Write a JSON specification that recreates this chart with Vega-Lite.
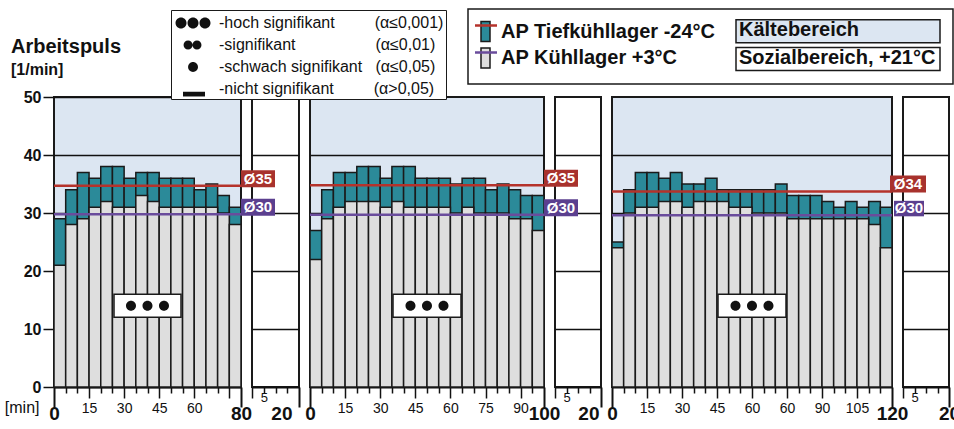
{
  "$schema": "https://vega.github.io/schema/vega-lite/v6.json",
  "background": "white",
  "padding": {"left": 3, "top": 8, "right": 0, "bottom": 0},
  "autosize": {"type": "pad"},
  "bounds": "flush",
  "spacing": 11,
  "config": {
    "font": "Liberation Sans",
    "view": {"stroke": "#1a1a1a", "strokeWidth": 2}
  },
  "datasets": {
    "balken": [
      {"p":1,"von":0,"bis":5,"tief":29,"kuehl":21},{"p":1,"von":5,"bis":10,"tief":34,"kuehl":28},{"p":1,"von":10,"bis":15,"tief":37,"kuehl":29},{"p":1,"von":15,"bis":20,"tief":36,"kuehl":31},
      {"p":1,"von":20,"bis":25,"tief":38,"kuehl":32},{"p":1,"von":25,"bis":30,"tief":38,"kuehl":31},{"p":1,"von":30,"bis":35,"tief":36,"kuehl":31},{"p":1,"von":35,"bis":40,"tief":37,"kuehl":33},
      {"p":1,"von":40,"bis":45,"tief":37,"kuehl":32},{"p":1,"von":45,"bis":50,"tief":36,"kuehl":31},{"p":1,"von":50,"bis":55,"tief":36,"kuehl":31},{"p":1,"von":55,"bis":60,"tief":36,"kuehl":31},
      {"p":1,"von":60,"bis":65,"tief":34,"kuehl":31},{"p":1,"von":65,"bis":70,"tief":35,"kuehl":31},{"p":1,"von":70,"bis":75,"tief":33,"kuehl":30},{"p":1,"von":75,"bis":80,"tief":31,"kuehl":28},
      {"p":2,"von":0,"bis":5,"tief":27,"kuehl":22},{"p":2,"von":5,"bis":10,"tief":34,"kuehl":29},{"p":2,"von":10,"bis":15,"tief":37,"kuehl":31},{"p":2,"von":15,"bis":20,"tief":37,"kuehl":32},
      {"p":2,"von":20,"bis":25,"tief":38,"kuehl":32},{"p":2,"von":25,"bis":30,"tief":38,"kuehl":32},{"p":2,"von":30,"bis":35,"tief":36,"kuehl":31},{"p":2,"von":35,"bis":40,"tief":38,"kuehl":32},
      {"p":2,"von":40,"bis":45,"tief":38,"kuehl":31},{"p":2,"von":45,"bis":50,"tief":36,"kuehl":31},{"p":2,"von":50,"bis":55,"tief":36,"kuehl":31},{"p":2,"von":55,"bis":60,"tief":36,"kuehl":31},
      {"p":2,"von":60,"bis":65,"tief":35,"kuehl":30},{"p":2,"von":65,"bis":70,"tief":36,"kuehl":31},{"p":2,"von":70,"bis":75,"tief":36,"kuehl":30},{"p":2,"von":75,"bis":80,"tief":34,"kuehl":30},
      {"p":2,"von":80,"bis":85,"tief":35,"kuehl":30},{"p":2,"von":85,"bis":90,"tief":34,"kuehl":29},{"p":2,"von":90,"bis":95,"tief":33,"kuehl":29},{"p":2,"von":95,"bis":100,"tief":33,"kuehl":27},
      {"p":3,"von":0,"bis":5,"tief":25,"kuehl":24},{"p":3,"von":5,"bis":10,"tief":34,"kuehl":30},{"p":3,"von":10,"bis":15,"tief":37,"kuehl":31},{"p":3,"von":15,"bis":20,"tief":37,"kuehl":31},
      {"p":3,"von":20,"bis":25,"tief":36,"kuehl":32},{"p":3,"von":25,"bis":30,"tief":37,"kuehl":32},{"p":3,"von":30,"bis":35,"tief":35,"kuehl":31},{"p":3,"von":35,"bis":40,"tief":35,"kuehl":32},
      {"p":3,"von":40,"bis":45,"tief":36,"kuehl":32},{"p":3,"von":45,"bis":50,"tief":34,"kuehl":32},{"p":3,"von":50,"bis":55,"tief":34,"kuehl":31},{"p":3,"von":55,"bis":60,"tief":34,"kuehl":31},
      {"p":3,"von":60,"bis":65,"tief":34,"kuehl":30},{"p":3,"von":65,"bis":70,"tief":34,"kuehl":30},{"p":3,"von":70,"bis":75,"tief":35,"kuehl":30},{"p":3,"von":75,"bis":80,"tief":33,"kuehl":29},
      {"p":3,"von":80,"bis":85,"tief":33,"kuehl":29},{"p":3,"von":85,"bis":90,"tief":33,"kuehl":29},{"p":3,"von":90,"bis":95,"tief":32,"kuehl":29},{"p":3,"von":95,"bis":100,"tief":31,"kuehl":29},
      {"p":3,"von":100,"bis":105,"tief":32,"kuehl":29},{"p":3,"von":105,"bis":110,"tief":31,"kuehl":29},{"p":3,"von":110,"bis":115,"tief":32,"kuehl":28},{"p":3,"von":115,"bis":120,"tief":31,"kuehl":24}
    ],
    "gruppen": [
      {"p":1,"tief_mittel":34.7,"kuehl_mittel":29.8,"sig":"-hoch signifikant"},
      {"p":2,"tief_mittel":34.8,"kuehl_mittel":29.7,"sig":"-hoch signifikant"},
      {"p":3,"tief_mittel":33.7,"kuehl_mittel":29.6,"sig":"-hoch signifikant"}
    ]
  },
  "hconcat": [
    {
      "width": 187, "height": 290,
      "view": {"fill": "#dce6f2"},
      "title": {"text": "Arbeitspuls", "subtitle": "[1/min]", "anchor": "start", "frame": "group", "orient": "top", "dx": -43, "fontSize": 20, "fontWeight": "bold", "color": "#111", "subtitleFontSize": 16, "subtitleFontWeight": "bold", "subtitleColor": "#111", "subtitlePadding": 5, "offset": 11},
      "layer": [
        {
          "data": {"name": "balken"},
          "transform": [{"filter": "datum.p === 1"}],
          "mark": {"type": "rect", "stroke": "#1a1a1a", "strokeWidth": 1.5},
          "encoding": {
            "x": {"field": "von", "type": "quantitative", "scale": {"domain": [0, 80], "nice": false, "zero": false},
              "axis": {"title": "[min]", "titleX": -15, "titleY": 25, "titleAlign": "right", "titleBaseline": "alphabetic", "titleFontSize": 16, "titleFontWeight": "normal", "titleColor": "#111",
                "values": [0,5,10,15,20,25,30,35,40,45,50,55,60,65,70,75,80], "tickCount": 17,
                "labelExpr": "indexof([0,15,30,45,60,80], datum.value) >= 0 ? datum.label : ''",
                "labelFlush": false, "labelOverlap": false, "labelColor": "#111", "grid": false,
                "domainColor": "#111", "domainWidth": 2, "tickColor": "#111",
                "tickSize": {"condition": [{"test": "datum.value === 0 || datum.value === 80", "value": 20}, {"test": "datum.value % 15 === 0", "value": 11}], "value": 6},
                "tickWidth": {"condition": {"test": "datum.value === 0 || datum.value === 80", "value": 2}, "value": 1.5},
                "labelFontSize": {"condition": {"test": "datum.value === 0 || datum.value === 80", "value": 19}, "value": 14},
                "labelFontWeight": {"condition": {"test": "datum.value === 0 || datum.value === 80", "value": "bold"}, "value": "normal"},
                "labelPadding": {"condition": {"test": "datum.value === 0 || datum.value === 80", "value": -3}, "value": 3}}},
            "x2": {"field": "bis"},
            "y": {"field": "tief", "type": "quantitative", "scale": {"domain": [0, 50], "nice": false},
              "axis": {"title": null, "values": [0,10,20,30,40,50], "grid": true, "gridColor": "#111", "gridWidth": 1.5, "tickSize": 11, "tickWidth": 1.5, "tickColor": "#111", "domain": false, "labelFontSize": 16, "labelFontWeight": "bold", "labelColor": "#111", "labelPadding": 2, "labelFlush": false}},
            "y2": {"datum": 0},
            "fill": {"datum": "AP Tiefkühllager -24°C", "type": "nominal",
              "scale": {"domain": ["AP Tiefkühllager -24°C", "AP Kühllager +3°C", "Kältebereich", "Sozialbereich, +21°C"], "range": ["#2b8a99", "#dedede", "#dce6f2", "#ffffff"]},
              "legend": {"orient": "none", "legendX": 414, "legendY": -88, "title": null, "columns": 2, "columnPadding": 0, "rowPadding": -2, "padding": 10,
                "strokeColor": "#1a1a1a", "symbolSize": 400, "symbolStrokeColor": "#1a1a1a", "symbolStrokeWidth": 1.5, "symbolOpacity": 1,
                "labelFontSize": 20, "labelFontWeight": "bold", "labelColor": "#111", "labelOffset": 1, "labelLimit": 400, "zindex": 1,
                "encode": {"legend": {"update": {"strokeWidth": {"value": 1.5}}},
                  "symbols": {"update": {"shape": {"signal": "datum.value === 'Kältebereich' || datum.value === 'Sozialbereich, +21°C' ? 'M0.9,-1.05H21.3V1.25H0.9Z' : 'M-0.8,-1H0.1V1H-0.8Z'"}}}}}}
          }
        },
        {
          "data": {"name": "balken"},
          "transform": [{"filter": "datum.p === 1"}],
          "mark": {"type": "rect", "stroke": "#1a1a1a", "strokeWidth": 1.5},
          "encoding": {
            "x": {"field": "von", "type": "quantitative"},
            "x2": {"field": "bis"},
            "y": {"field": "kuehl", "type": "quantitative"},
            "y2": {"datum": 0},
            "fill": {"datum": "AP Kühllager +3°C", "type": "nominal"}
          }
        },
        {
          "data": {"name": "gruppen"},
          "transform": [{"filter": "datum.p === 1"}],
          "mark": {"type": "rule", "strokeWidth": 2.5},
          "encoding": {
            "y": {"field": "tief_mittel", "type": "quantitative"},
            "stroke": {"datum": "Ø Tiefkühllager", "type": "nominal",
              "scale": {"domain": ["Ø Tiefkühllager", "Ø Kühllager"], "range": ["#b5322b", "#6a4c9c"]},
              "legend": {"orient": "none", "legendX": 414, "legendY": -88, "title": null, "columns": 1, "rowPadding": 5, "padding": 10,
                "symbolType": "M-1.45,-0.5H0.75", "symbolSize": 400, "symbolStrokeWidth": 2.5,
                "labelFontSize": 20, "labelFontWeight": "bold", "labelOpacity": 0, "labelOffset": 1, "labelExpr": "''", "zindex": 2}}
          }
        },
        {
          "data": {"name": "gruppen"},
          "transform": [{"filter": "datum.p === 1"}],
          "mark": {"type": "rule", "strokeWidth": 2.5},
          "encoding": {
            "y": {"field": "kuehl_mittel", "type": "quantitative"},
            "stroke": {"datum": "Ø Kühllager", "type": "nominal"}
          }
        },
        {
          "data": {"name": "gruppen"},
          "transform": [{"filter": "datum.p === 1"}],
          "mark": {"type": "point", "shape": "M-3.35,-1.15H3.35V1.15H-3.35Z", "size": 400, "filled": true, "fill": "white", "stroke": "#1a1a1a", "strokeWidth": 1.5, "opacity": 1},
          "encoding": {"x": {"datum": 40, "type": "quantitative"}, "y": {"datum": 14, "type": "quantitative"}}
        },
        {
          "data": {"name": "gruppen"},
          "transform": [{"filter": "datum.p === 1"}],
          "mark": {"type": "point", "shape": "M-2.15,0a0.5,0.5 0 1,0 1,0a0.5,0.5 0 1,0 -1,0ZM-0.5,0a0.5,0.5 0 1,0 1,0a0.5,0.5 0 1,0 -1,0ZM1.15,0a0.5,0.5 0 1,0 1,0a0.5,0.5 0 1,0 -1,0Z", "size": 400, "filled": true, "fill": "#111", "strokeWidth": 0, "opacity": 1},
          "encoding": {"x": {"datum": 40, "type": "quantitative"}, "y": {"datum": 14, "type": "quantitative"}}
        },
        {
          "data": {"name": "gruppen"},
          "transform": [{"filter": "datum.p === 0"}],
          "mark": {"type": "point", "size": 484, "filled": true, "fill": "#111", "strokeWidth": 0, "opacity": 1},
          "encoding": {
            "x": {"datum": 40, "type": "quantitative"}, "y": {"datum": 14, "type": "quantitative"},
            "shape": {"field": "sig", "type": "nominal",
              "scale": {"domain": ["-hoch signifikant", "-signifikant", "-schwach signifikant", "-nicht signifikant"],
                "range": ["M-0.77,0a0.5,0.5 0 1,0 1,0a0.5,0.5 0 1,0 -1,0ZM0.32,0a0.5,0.5 0 1,0 1,0a0.5,0.5 0 1,0 -1,0ZM1.41,0a0.5,0.5 0 1,0 1,0a0.5,0.5 0 1,0 -1,0Z",
                  "M-0.04,0a0.41,0.41 0 1,0 0.82,0a0.41,0.41 0 1,0 -0.82,0ZM0.77,0a0.41,0.41 0 1,0 0.82,0a0.41,0.41 0 1,0 -0.82,0Z",
                  "M0.37,0a0.45,0.45 0 1,0 0.9,0a0.45,0.45 0 1,0 -0.9,0Z",
                  "M-0.09,0.25H1.91V0.68H-0.09Z"]},
              "legend": {"orient": "none", "legendX": 117, "legendY": -87, "title": null, "rowPadding": 3, "padding": 2,
                "strokeColor": "#1a1a1a", "fillColor": "white", "symbolSize": 484, "symbolFillColor": "#111", "symbolStrokeWidth": 0, "symbolOpacity": 1,
                "labelFontSize": 16, "labelColor": "#111", "labelOffset": 24, "labelLimit": 400, "zindex": 3,
                "labelExpr": "datum.label === '-hoch signifikant' ? datum.label + '\u00a0\u00a0\u00a0\u00a0\u00a0\u00a0\u00a0\u00a0\u00a0(α≤0,001)' : datum.label === '-signifikant' ? datum.label + '\u00a0\u00a0\u00a0\u00a0\u00a0\u00a0\u00a0\u00a0\u00a0\u00a0\u00a0\u00a0\u00a0\u00a0\u00a0\u00a0\u00a0\u00a0(α≤0,01)' : datum.label === '-schwach signifikant' ? datum.label + '\u00a0\u00a0\u00a0(α≤0,05)' : datum.label + '\u00a0\u00a0\u00a0\u00a0\u00a0\u00a0\u00a0\u00a0\u00a0(α>0,05)'",
                "encode": {"legend": {"update": {"strokeWidth": {"value": 1.5}, "width": {"value": 285}}}}}}
          }
        }
      ]
    },
    {
      "width": 47, "height": 290,
      "data": {"name": "gruppen"},
      "transform": [{"filter": "datum.p === 1"}, {"calculate": "'Ø' + format(datum.tief_mittel, '.0f')", "as": "tl"}, {"calculate": "'Ø' + format(datum.kuehl_mittel, '.0f')", "as": "kl"}],
      "layer": [
        {
          "mark": {"type": "point", "shape": "M-1.1,-1.55H2.3V0.15H-1.1Z", "size": 400, "filled": true, "fill": "#a8322d", "strokeWidth": 0, "opacity": 1},
          "encoding": {
            "x": {"datum": 0, "type": "quantitative", "scale": {"domain": [0, 20], "nice": false, "zero": false},
              "axis": {"title": null, "values": [0,5,10,15,20], "tickCount": 5, "labelExpr": "datum.value === 5 || datum.value === 20 ? datum.label : ''",
                "labelFlush": false, "labelOverlap": false, "labelColor": "#111", "domainColor": "#111", "domainWidth": 2, "tickColor": "#111",
                "tickSize": {"condition": [{"test": "datum.value === 20", "value": 20}, {"test": "datum.value === 0", "value": 11}], "value": 6},
                "tickWidth": {"condition": {"test": "datum.value === 20", "value": 2}, "value": 1.5},
                "labelFontSize": {"condition": {"test": "datum.value === 20", "value": 19}, "value": 13},
                "labelFontWeight": {"condition": {"test": "datum.value === 20", "value": "bold"}, "value": "normal"},
                "labelPadding": {"condition": {"test": "datum.value === 20", "value": -3}, "value": -2},
                "labelAlign": {"condition": {"test": "datum.value === 20", "value": "right"}, "value": "center"},
                "labelOffset": {"condition": {"test": "datum.value === 20", "value": -7}, "value": 0}}},
            "y": {"field": "tief_mittel", "type": "quantitative", "scale": {"domain": [0, 50], "nice": false},
              "axis": {"title": null, "values": [10,20,30,40], "grid": true, "gridColor": "#111", "gridWidth": 1.5, "ticks": false, "labels": false, "domain": false}}
          }
        },
        {
          "mark": {"type": "text", "fill": "white", "fontWeight": "bold", "fontSize": 15, "dx": 6, "dy": -7, "baseline": "middle", "align": "center"},
          "encoding": {"x": {"datum": 0, "type": "quantitative"}, "y": {"field": "tief_mittel", "type": "quantitative"}, "text": {"field": "tl"}}
        },
        {
          "mark": {"type": "point", "shape": "M-1.1,-1.55H2.3V0.15H-1.1Z", "size": 400, "filled": true, "fill": "#5b3f8f", "strokeWidth": 0, "opacity": 1},
          "encoding": {"x": {"datum": 0, "type": "quantitative"}, "y": {"field": "kuehl_mittel", "type": "quantitative"}}
        },
        {
          "mark": {"type": "text", "fill": "white", "fontWeight": "bold", "fontSize": 15, "dx": 6, "dy": -7, "baseline": "middle", "align": "center"},
          "encoding": {"x": {"datum": 0, "type": "quantitative"}, "y": {"field": "kuehl_mittel", "type": "quantitative"}, "text": {"field": "kl"}}
        }
      ]
    },
    {
      "width": 234, "height": 290,
      "view": {"fill": "#dce6f2"},
      "layer": [
        {
          "data": {"name": "balken"},
          "transform": [{"filter": "datum.p === 2"}],
          "mark": {"type": "rect", "stroke": "#1a1a1a", "strokeWidth": 1.5},
          "encoding": {
            "x": {"field": "von", "type": "quantitative", "scale": {"domain": [0, 100], "nice": false, "zero": false},
              "axis": {"title": null,
                "values": [0,5,10,15,20,25,30,35,40,45,50,55,60,65,70,75,80,85,90,95,100], "tickCount": 21,
                "labelExpr": "indexof([0,15,30,45,60,75,90,100], datum.value) >= 0 ? datum.label : ''",
                "labelFlush": false, "labelOverlap": false, "labelColor": "#111", "grid": false,
                "domainColor": "#111", "domainWidth": 2, "tickColor": "#111",
                "tickSize": {"condition": [{"test": "datum.value === 0 || datum.value === 100", "value": 20}, {"test": "datum.value % 15 === 0", "value": 11}], "value": 6},
                "tickWidth": {"condition": {"test": "datum.value === 0 || datum.value === 100", "value": 2}, "value": 1.5},
                "labelFontSize": {"condition": {"test": "datum.value === 0 || datum.value === 100", "value": 19}, "value": 14},
                "labelFontWeight": {"condition": {"test": "datum.value === 0 || datum.value === 100", "value": "bold"}, "value": "normal"},
                "labelPadding": {"condition": {"test": "datum.value === 0 || datum.value === 100", "value": -3}, "value": 3}}},
            "x2": {"field": "bis"},
            "y": {"field": "tief", "type": "quantitative", "scale": {"domain": [0, 50], "nice": false},
              "axis": {"title": null, "values": [10,20,30,40], "grid": true, "gridColor": "#111", "gridWidth": 1.5, "ticks": false, "labels": false, "domain": false}},
            "y2": {"datum": 0},
            "fill": {"datum": "AP Tiefkühllager -24°C", "type": "nominal"}
          }
        },
        {
          "data": {"name": "balken"},
          "transform": [{"filter": "datum.p === 2"}],
          "mark": {"type": "rect", "stroke": "#1a1a1a", "strokeWidth": 1.5},
          "encoding": {
            "x": {"field": "von", "type": "quantitative"},
            "x2": {"field": "bis"},
            "y": {"field": "kuehl", "type": "quantitative"},
            "y2": {"datum": 0},
            "fill": {"datum": "AP Kühllager +3°C", "type": "nominal"}
          }
        },
        {
          "data": {"name": "gruppen"},
          "transform": [{"filter": "datum.p === 2"}],
          "mark": {"type": "rule", "strokeWidth": 2.5},
          "encoding": {"y": {"field": "tief_mittel", "type": "quantitative"}, "stroke": {"datum": "Ø Tiefkühllager", "type": "nominal"}}
        },
        {
          "data": {"name": "gruppen"},
          "transform": [{"filter": "datum.p === 2"}],
          "mark": {"type": "rule", "strokeWidth": 2.5},
          "encoding": {"y": {"field": "kuehl_mittel", "type": "quantitative"}, "stroke": {"datum": "Ø Kühllager", "type": "nominal"}}
        },
        {
          "data": {"name": "gruppen"},
          "transform": [{"filter": "datum.p === 2"}],
          "mark": {"type": "point", "shape": "M-3.4,-1.15H3.4V1.15H-3.4Z", "size": 400, "filled": true, "fill": "white", "stroke": "#1a1a1a", "strokeWidth": 1.5, "opacity": 1},
          "encoding": {"x": {"datum": 50, "type": "quantitative"}, "y": {"datum": 14, "type": "quantitative"}}
        },
        {
          "data": {"name": "gruppen"},
          "transform": [{"filter": "datum.p === 2"}],
          "mark": {"type": "point", "shape": "M-2.15,0a0.5,0.5 0 1,0 1,0a0.5,0.5 0 1,0 -1,0ZM-0.5,0a0.5,0.5 0 1,0 1,0a0.5,0.5 0 1,0 -1,0ZM1.15,0a0.5,0.5 0 1,0 1,0a0.5,0.5 0 1,0 -1,0Z", "size": 400, "filled": true, "fill": "#111", "strokeWidth": 0, "opacity": 1},
          "encoding": {"x": {"datum": 50, "type": "quantitative"}, "y": {"datum": 14, "type": "quantitative"}}
        }
      ]
    },
    {
      "width": 46, "height": 290,
      "data": {"name": "gruppen"},
      "transform": [{"filter": "datum.p === 2"}, {"calculate": "'Ø' + format(datum.tief_mittel, '.0f')", "as": "tl"}, {"calculate": "'Ø' + format(datum.kuehl_mittel, '.0f')", "as": "kl"}],
      "layer": [
        {
          "mark": {"type": "point", "shape": "M-1.1,-1.55H2.3V0.15H-1.1Z", "size": 400, "filled": true, "fill": "#a8322d", "strokeWidth": 0, "opacity": 1},
          "encoding": {
            "x": {"datum": 0, "type": "quantitative", "scale": {"domain": [0, 20], "nice": false, "zero": false},
              "axis": {"title": null, "values": [0,5,10,15,20], "tickCount": 5, "labelExpr": "datum.value === 5 || datum.value === 20 ? datum.label : ''",
                "labelFlush": false, "labelOverlap": false, "labelColor": "#111", "domainColor": "#111", "domainWidth": 2, "tickColor": "#111",
                "tickSize": {"condition": [{"test": "datum.value === 20", "value": 20}, {"test": "datum.value === 0", "value": 11}], "value": 6},
                "tickWidth": {"condition": {"test": "datum.value === 20", "value": 2}, "value": 1.5},
                "labelFontSize": {"condition": {"test": "datum.value === 20", "value": 19}, "value": 13},
                "labelFontWeight": {"condition": {"test": "datum.value === 20", "value": "bold"}, "value": "normal"},
                "labelPadding": {"condition": {"test": "datum.value === 20", "value": -3}, "value": -2},
                "labelAlign": {"condition": {"test": "datum.value === 20", "value": "right"}, "value": "center"},
                "labelOffset": {"condition": {"test": "datum.value === 20", "value": -2}, "value": 0}}},
            "y": {"field": "tief_mittel", "type": "quantitative", "scale": {"domain": [0, 50], "nice": false},
              "axis": {"title": null, "values": [10,20,30,40], "grid": true, "gridColor": "#111", "gridWidth": 1.5, "ticks": false, "labels": false, "domain": false}}
          }
        },
        {
          "mark": {"type": "text", "fill": "white", "fontWeight": "bold", "fontSize": 15, "dx": 6, "dy": -7, "baseline": "middle", "align": "center"},
          "encoding": {"x": {"datum": 0, "type": "quantitative"}, "y": {"field": "tief_mittel", "type": "quantitative"}, "text": {"field": "tl"}}
        },
        {
          "mark": {"type": "point", "shape": "M-1.1,-1.55H2.3V0.15H-1.1Z", "size": 400, "filled": true, "fill": "#5b3f8f", "strokeWidth": 0, "opacity": 1},
          "encoding": {"x": {"datum": 0, "type": "quantitative"}, "y": {"field": "kuehl_mittel", "type": "quantitative"}}
        },
        {
          "mark": {"type": "text", "fill": "white", "fontWeight": "bold", "fontSize": 15, "dx": 6, "dy": -7, "baseline": "middle", "align": "center"},
          "encoding": {"x": {"datum": 0, "type": "quantitative"}, "y": {"field": "kuehl_mittel", "type": "quantitative"}, "text": {"field": "kl"}}
        }
      ]
    },
    {
      "width": 280, "height": 290,
      "view": {"fill": "#dce6f2"},
      "layer": [
        {
          "data": {"name": "balken"},
          "transform": [{"filter": "datum.p === 3"}],
          "mark": {"type": "rect", "stroke": "#1a1a1a", "strokeWidth": 1.5},
          "encoding": {
            "x": {"field": "von", "type": "quantitative", "scale": {"domain": [0, 120], "nice": false, "zero": false},
              "axis": {"title": null,
                "values": [0,5,10,15,20,25,30,35,40,45,50,55,60,65,70,75,80,85,90,95,100,105,110,115,120], "tickCount": 25,
                "labelExpr": "datum.value == 75 ? '60' : (indexof([0,15,30,45,60,90,105,120], datum.value) >= 0 ? datum.label : '')",
                "labelFlush": false, "labelOverlap": false, "labelColor": "#111", "grid": false,
                "domainColor": "#111", "domainWidth": 2, "tickColor": "#111",
                "tickSize": {"condition": [{"test": "datum.value === 0 || datum.value === 120", "value": 20}, {"test": "datum.value % 15 === 0", "value": 11}], "value": 6},
                "tickWidth": {"condition": {"test": "datum.value === 0 || datum.value === 120", "value": 2}, "value": 1.5},
                "labelFontSize": {"condition": {"test": "datum.value === 0 || datum.value === 120", "value": 19}, "value": 14},
                "labelFontWeight": {"condition": {"test": "datum.value === 0 || datum.value === 120", "value": "bold"}, "value": "normal"},
                "labelPadding": {"condition": {"test": "datum.value === 0 || datum.value === 120", "value": -3}, "value": 3}}},
            "x2": {"field": "bis"},
            "y": {"field": "tief", "type": "quantitative", "scale": {"domain": [0, 50], "nice": false},
              "axis": {"title": null, "values": [10,20,30,40], "grid": true, "gridColor": "#111", "gridWidth": 1.5, "ticks": false, "labels": false, "domain": false}},
            "y2": {"datum": 0},
            "fill": {"datum": "AP Tiefkühllager -24°C", "type": "nominal"}
          }
        },
        {
          "data": {"name": "balken"},
          "transform": [{"filter": "datum.p === 3"}],
          "mark": {"type": "rect", "stroke": "#1a1a1a", "strokeWidth": 1.5},
          "encoding": {
            "x": {"field": "von", "type": "quantitative"},
            "x2": {"field": "bis"},
            "y": {"field": "kuehl", "type": "quantitative"},
            "y2": {"datum": 0},
            "fill": {"datum": "AP Kühllager +3°C", "type": "nominal"}
          }
        },
        {
          "data": {"name": "gruppen"},
          "transform": [{"filter": "datum.p === 3"}],
          "mark": {"type": "rule", "strokeWidth": 2.5},
          "encoding": {"y": {"field": "tief_mittel", "type": "quantitative"}, "stroke": {"datum": "Ø Tiefkühllager", "type": "nominal"}}
        },
        {
          "data": {"name": "gruppen"},
          "transform": [{"filter": "datum.p === 3"}],
          "mark": {"type": "rule", "strokeWidth": 2.5},
          "encoding": {"y": {"field": "kuehl_mittel", "type": "quantitative"}, "stroke": {"datum": "Ø Kühllager", "type": "nominal"}}
        },
        {
          "data": {"name": "gruppen"},
          "transform": [{"filter": "datum.p === 3"}],
          "mark": {"type": "point", "shape": "M-3.4,-1.15H3.4V1.15H-3.4Z", "size": 400, "filled": true, "fill": "white", "stroke": "#1a1a1a", "strokeWidth": 1.5, "opacity": 1},
          "encoding": {"x": {"datum": 60, "type": "quantitative"}, "y": {"datum": 14, "type": "quantitative"}}
        },
        {
          "data": {"name": "gruppen"},
          "transform": [{"filter": "datum.p === 3"}],
          "mark": {"type": "point", "shape": "M-2.15,0a0.5,0.5 0 1,0 1,0a0.5,0.5 0 1,0 -1,0ZM-0.5,0a0.5,0.5 0 1,0 1,0a0.5,0.5 0 1,0 -1,0ZM1.15,0a0.5,0.5 0 1,0 1,0a0.5,0.5 0 1,0 -1,0Z", "size": 400, "filled": true, "fill": "#111", "strokeWidth": 0, "opacity": 1},
          "encoding": {"x": {"datum": 60, "type": "quantitative"}, "y": {"datum": 14, "type": "quantitative"}}
        }
      ]
    },
    {
      "width": 46, "height": 290,
      "data": {"name": "gruppen"},
      "transform": [{"filter": "datum.p === 3"}, {"calculate": "'Ø' + format(datum.tief_mittel, '.0f')", "as": "tl"}, {"calculate": "'Ø' + format(datum.kuehl_mittel, '.0f')", "as": "kl"}],
      "layer": [
        {
          "mark": {"type": "point", "shape": "M-1.3,-1.6H2.3V0.1H-1.3Z", "size": 400, "filled": true, "fill": "#a8322d", "strokeWidth": 0, "opacity": 1},
          "encoding": {
            "x": {"datum": 0, "type": "quantitative", "scale": {"domain": [0, 20], "nice": false, "zero": false},
              "axis": {"title": null, "values": [0,5,10,15,20], "tickCount": 5, "labelExpr": "datum.value === 5 || datum.value === 20 ? datum.label : ''",
                "labelFlush": false, "labelOverlap": false, "labelColor": "#111", "domainColor": "#111", "domainWidth": 2, "tickColor": "#111",
                "tickSize": {"condition": [{"test": "datum.value === 20", "value": 20}, {"test": "datum.value === 0", "value": 11}], "value": 6},
                "tickWidth": {"condition": {"test": "datum.value === 20", "value": 2}, "value": 1.5},
                "labelFontSize": {"condition": {"test": "datum.value === 20", "value": 19}, "value": 13},
                "labelFontWeight": {"condition": {"test": "datum.value === 20", "value": "bold"}, "value": "normal"},
                "labelPadding": {"condition": {"test": "datum.value === 20", "value": -3}, "value": -2}}},
            "y": {"field": "tief_mittel", "type": "quantitative", "scale": {"domain": [0, 50], "nice": false},
              "axis": {"title": null, "values": [10,20,30,40], "grid": true, "gridColor": "#111", "gridWidth": 1.5, "ticks": false, "labels": false, "domain": false}}
          }
        },
        {
          "mark": {"type": "text", "fill": "white", "fontWeight": "bold", "fontSize": 15, "dx": 5, "dy": -7.5, "baseline": "middle", "align": "center"},
          "encoding": {"x": {"datum": 0, "type": "quantitative"}, "y": {"field": "tief_mittel", "type": "quantitative"}, "text": {"field": "tl"}}
        },
        {
          "mark": {"type": "point", "shape": "M-0.9,-1.45H2.1V0.1H-0.9Z", "size": 400, "filled": true, "fill": "#5b3f8f", "strokeWidth": 0, "opacity": 1},
          "encoding": {"x": {"datum": 0, "type": "quantitative"}, "y": {"field": "kuehl_mittel", "type": "quantitative"}}
        },
        {
          "mark": {"type": "text", "fill": "white", "fontWeight": "bold", "fontSize": 15, "dx": 6, "dy": -7, "baseline": "middle", "align": "center"},
          "encoding": {"x": {"datum": 0, "type": "quantitative"}, "y": {"field": "kuehl_mittel", "type": "quantitative"}, "text": {"field": "kl"}}
        }
      ]
    }
  ]
}
